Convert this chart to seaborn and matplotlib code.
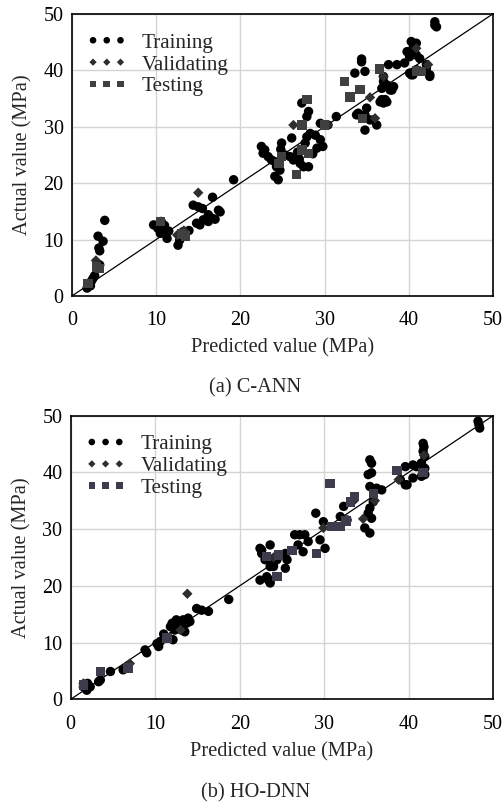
import numpy as np
import pandas as pd
import seaborn as sns
import matplotlib.pyplot as plt

# --- (a) C-ANN data (predicted, actual) ---
a_train_pred = [1.8, 2.0, 2.3, 2.5, 2.7, 3.1, 3.7, 3.2, 3.3, 3.9, 3.3, 2.2,
                9.7, 10.2, 10.6, 10.8, 11.3, 10.5, 11.0, 12.6, 12.8, 13.2, 13.9, 11.5,
                14.4, 15.0, 15.5, 16.7, 14.8, 15.2, 15.6, 16.2, 16.6, 17.0, 17.4, 17.6, 16.2, 19.2,
                22.5, 22.9, 22.7, 23.3, 23.7, 24.1, 24.3, 24.7, 24.1, 24.5, 24.9, 24.8, 25.9, 26.3,
                26.1, 27.1, 27.5, 28.1, 27.7, 27.9, 28.3, 28.9, 29.5, 29.8, 29.1, 27.3, 28.1, 27.9,
                29.5, 30.4, 31.4, 25.3, 26.8, 27.0, 28.6,
                33.6, 34.8, 34.4, 34.4, 34.0, 34.8, 35.0, 35.8, 36.2, 34.8, 36.6, 37.4, 36.8, 37.0,
                37.4, 38.0, 37.6, 38.6, 39.5, 33.8, 34.4, 35.4, 37.2, 37.0, 37.8, 38.2, 37.0, 36.8,
                40.3, 42.1, 42.5, 43.1, 43.3, 43.1, 40.3, 40.9, 40.5, 39.8, 40.1, 40.9, 41.3, 40.1,
                40.5, 42.5, 42.1, 40.9]
a_train_act = [1.4, 2.0, 2.6, 3.1, 3.6, 10.6, 9.7, 8.5, 8.0, 13.4, 5.5, 1.8,
               12.6, 12.0, 13.2, 11.7, 10.2, 11.1, 12.5, 9.0, 9.9, 11.4, 11.6, 11.5,
               16.1, 15.8, 15.5, 17.5, 12.9, 12.6, 13.5, 13.2, 13.8, 13.6, 15.2, 14.9, 14.4, 20.6,
               26.5, 25.9, 25.3, 24.7, 24.1, 23.8, 22.9, 22.3, 21.2, 20.6, 27.1, 26.0, 24.7, 24.1,
               28.0, 23.5, 22.9, 22.9, 27.1, 28.2, 28.8, 28.5, 27.7, 26.5, 26.2, 34.2, 32.7, 31.8,
               30.6, 30.3, 31.8, 25.0, 25.5, 24.3, 25.2,
               39.5, 39.8, 41.5, 42.0, 32.4, 32.1, 33.3, 31.2, 30.3, 29.4, 34.4, 34.4, 36.8, 38.0,
               37.4, 36.5, 41.0, 41.0, 41.3, 32.1, 31.8, 31.2, 34.8, 34.2, 36.5, 37.1, 38.9, 34.8,
               39.2, 41.0, 39.2, 48.6, 47.7, 48.0, 45.1, 44.8, 43.9, 43.3, 42.4, 42.7, 42.1, 39.5,
               39.2, 38.9, 40.4, 40.1]
a_val_pred = [2.85, 13.3, 15.0, 26.3, 30.4, 35.4, 36.0, 37.0, 40.9, 42.3, 12.5]
a_val_act = [6.3, 11.6, 18.3, 30.3, 30.3, 35.2, 31.5, 38.9, 43.9, 41.0, 10.8]
a_test_pred = [1.9, 2.9, 3.3, 10.5, 13.5, 24.9, 26.7, 27.3, 28.1, 27.9, 27.3, 30.0,
               33.0, 34.2, 32.4, 36.5, 34.5, 40.9, 41.5, 24.6, 13.0]
a_test_act = [2.25, 5.1, 4.9, 13.2, 10.6, 24.7, 21.5, 25.9, 25.3, 34.8, 30.3, 30.3,
              35.3, 36.6, 38.0, 40.2, 31.5, 39.9, 39.8, 23.5, 11.0]

# --- (b) HO-DNN data (predicted, actual) ---
b_train_pred = [1.5, 1.9, 2.3, 3.3, 3.5, 4.7, 6.2, 8.8, 10.4, 10.6, 11.8, 12.1, 12.3, 12.0,
                12.5, 13.3, 13.7, 13.9, 14.1, 13.5, 14.9, 15.5, 16.3, 18.7, 2.0, 9.0, 11.0, 12.8,
                13.0, 10.2,
                22.4, 23.2, 23.6, 22.6, 23.6, 23.4, 24.0, 22.4, 22.6, 23.0, 23.6, 24.0, 24.4, 25.4,
                25.6, 25.4, 23.4, 23.6, 26.5, 27.1, 27.7, 26.9, 27.5, 28.1, 29.5, 30.1, 29.0, 29.9,
                31.9, 32.7, 32.3,
                35.2, 35.6, 35.4, 35.4, 36.2, 36.8, 35.8, 35.4, 35.2, 35.6, 34.8, 35.4, 35.6,
                39.6, 40.5, 40.9, 41.5, 41.9, 40.5, 41.5, 41.9, 39.0, 39.8, 39.6, 41.7, 41.7, 41.9,
                41.5, 41.8, 48.2, 48.4, 48.3]
b_train_act = [2.2, 1.6, 2.2, 3.1, 3.4, 4.9, 5.2, 8.7, 9.3, 10.2, 12.8, 10.5, 12.2, 13.4,
               14.0, 14.0, 13.4, 14.3, 13.7, 11.9, 16.0, 15.7, 15.5, 17.6, 2.8, 8.2, 11.5, 12.4,
               13.0, 9.8,
               21.0, 21.6, 21.0, 26.3, 27.2, 24.9, 24.0, 26.6, 25.7, 24.6, 23.4, 23.4, 24.6, 25.7,
               24.6, 23.1, 21.0, 20.5, 29.0, 29.0, 29.0, 27.2, 26.0, 27.8, 28.1, 26.6, 32.8, 31.3,
               32.2, 31.6, 34.0,
               39.6, 41.6, 42.2, 37.5, 37.2, 36.9, 34.8, 33.7, 32.8, 31.9, 30.2, 29.3, 39.9,
               41.0, 41.3, 41.0, 41.6, 40.7, 39.0, 39.3, 39.6, 38.7, 37.8, 37.8, 45.1, 43.7, 42.8,
               41.6, 44.5, 49.0, 47.8, 48.4]
b_val_pred = [1.5, 7.0, 13.8, 34.6, 29.9, 33.5, 38.8, 41.8, 13.0, 24.0, 36.0]
b_val_act = [2.8, 6.3, 18.6, 31.8, 30.2, 35.0, 38.7, 43.0, 12.2, 25.0, 35.0]
b_test_pred = [1.5, 3.5, 6.8, 11.4, 23.2, 24.4, 24.6, 26.2, 29.1, 30.7, 30.9, 31.9,
               32.6, 33.1, 33.6, 35.8, 38.6, 41.7]
b_test_act = [2.5, 4.9, 5.5, 10.8, 25.2, 21.6, 25.4, 26.2, 25.7, 38.0, 30.4, 30.4,
              31.4, 34.8, 35.7, 36.3, 40.3, 40.0]

sns.set_style("whitegrid")
plt.rcParams['font.family'] = ['Liberation Serif', 'DejaVu Serif']

fig = plt.figure(figsize=(5.03, 8.06), dpi=100)
ax1 = fig.add_axes([0.143, 0.6328, 0.837, 0.35])
ax2 = fig.add_axes([0.1406, 0.1324, 0.840, 0.352])


def draw(ax, tr_x, tr_y, va_x, va_y, te_x, te_y, test_color):
    ax.plot([0, 50], [0, 50], color="black", lw=0.9, zorder=1)
    sns.scatterplot(x=tr_x, y=tr_y, ax=ax, marker="o", color="black", s=46,
                    edgecolor="none", label="Training", zorder=3)
    sns.scatterplot(x=va_x, y=va_y, ax=ax, marker="D", color="#2e2e2e", s=28,
                    edgecolor="none", label="Validating", zorder=3)
    sns.scatterplot(x=te_x, y=te_y, ax=ax, marker="s", color=test_color, s=46,
                    edgecolor="none", label="Testing", zorder=3)
    ax.set_xlim(0, 50)
    ax.set_ylim(0, 50)
    ax.set_xticks(range(0, 51, 10))
    ax.set_yticks(range(0, 51, 10))
    ax.grid(True, color="#d4d4d4", lw=1.0)
    for sp in ax.spines.values():
        sp.set_color("black")
        sp.set_linewidth(1.2)
    ax.tick_params(axis="both", length=0, labelsize=14.5, colors="black")
    ax.tick_params(axis="x", pad=11)
    ax.tick_params(axis="y", pad=6)
    ax.set_xlabel("Predicted value (MPa)", fontsize=14.7, labelpad=6)
    ax.set_ylabel("Actual value (MPa)", fontsize=14.7, labelpad=8)
    ax.legend(loc="upper left", bbox_to_anchor=(0.0, 0.985), frameon=False,
              scatterpoints=3, scatteryoffsets=[0.5], fontsize=15.2,
              labelspacing=0.1, handlelength=1.9, handletextpad=0.7,
              borderaxespad=0.3, markerscale=0.7)


draw(ax1, a_train_pred, a_train_act, a_val_pred, a_val_act, a_test_pred, a_test_act, "#404040")
draw(ax2, b_train_pred, b_train_act, b_val_pred, b_val_act, b_test_pred, b_test_act, "#3d3b4c")

fig.text(0.507, 1 - 388 / 806, "(a) C-ANN", ha="center", va="center", fontsize=14.7)
fig.text(0.508, 1 - 793 / 806, "(b) HO-DNN", ha="center", va="center", fontsize=14.7)

fig.savefig("out.png", dpi=100)
